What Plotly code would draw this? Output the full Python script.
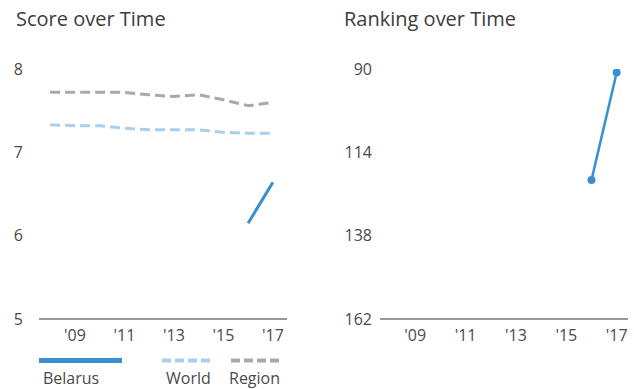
import plotly.graph_objects as go

# data
years = [2008, 2009, 2010, 2011, 2012, 2013, 2014, 2015, 2016, 2017]
region_score = [7.72, 7.72, 7.72, 7.72, 7.69, 7.67, 7.69, 7.63, 7.56, 7.60]
world_score = [7.33, 7.32, 7.32, 7.29, 7.27, 7.27, 7.27, 7.24, 7.23, 7.23]
belarus_years = [2016, 2017]
belarus_score = [6.15, 6.64]
belarus_rank = [122, 91]

tick_years = [2009, 2011, 2013, 2015, 2017]
tick_text = ["'09", "'11", "'13", "'15", "'17"]
score_ticks = [5, 6, 7, 8]
rank_ticks = [90, 114, 138, 162]

BLUE = "#3a8fd0"
LIGHT = "#a9cfee"
GREY = "#a9a9ab"
FONT = "Open Sans"
W, H = 634, 389

def px(x):
    return x / W

def py(y):
    return 1 - y / H

fig = go.Figure()

fig.add_trace(go.Scatter(x=years, y=region_score, mode="lines",
                         line=dict(color=GREY, width=3, dash="10px,5px"),
                         xaxis="x", yaxis="y", showlegend=False))
fig.add_trace(go.Scatter(x=years, y=world_score, mode="lines",
                         line=dict(color=LIGHT, width=3, dash="10px,5px"),
                         xaxis="x", yaxis="y", showlegend=False))
fig.add_trace(go.Scatter(x=belarus_years, y=belarus_score, mode="lines",
                         line=dict(color=BLUE, width=3),
                         xaxis="x", yaxis="y", showlegend=False))
fig.add_trace(go.Scatter(x=belarus_years, y=belarus_rank, mode="lines+markers",
                         line=dict(color=BLUE, width=2.5),
                         marker=dict(color=BLUE, size=8),
                         xaxis="x2", yaxis="y2", showlegend=False))

xcommon = dict(tickmode="array", tickvals=tick_years, ticktext=tick_text,
               showgrid=False, zeroline=False, showline=False, ticks="",
               automargin=False, ticklabelstandoff=5,
               tickfont=dict(family=FONT, size=16, color="#4a4a4a"))
ycommon = dict(tickmode="array", showgrid=False, zeroline=False,
               showline=False, ticks="", automargin=False,
               tickfont=dict(family=FONT, size=16, color="#4a4a4a"))

fig.update_layout(
    width=W, height=H,
    margin=dict(l=0, r=0, t=0, b=0),
    paper_bgcolor="white", plot_bgcolor="white",
    xaxis=dict(domain=[px(39), px(287)], range=[2007.55, 2017.57],
               anchor="y", **xcommon),
    yaxis=dict(domain=[py(319), py(69)], range=[5, 8], tickvals=score_ticks,
               anchor="x", ticklabelstandoff=15, **ycommon),
    xaxis2=dict(domain=[px(380), px(628)], range=[2007.6, 2017.45],
                anchor="y2", **xcommon),
    yaxis2=dict(domain=[py(319), py(69)], range=[162, 90], tickvals=rank_ticks,
                anchor="x2", ticklabelstandoff=7, **ycommon),
)

# baseline axis lines
for x0, x1 in [(39, 287), (380, 628)]:
    fig.add_shape(type="line", xref="paper", yref="paper",
                  x0=px(x0), x1=px(x1), y0=py(319), y1=py(319),
                  line=dict(color="#333", width=1.2))

# titles
for x, text in [(14, "Score over Time"), (342, "Ranking over Time")]:
    fig.add_annotation(x=px(x), y=py(18), xref="paper", yref="paper",
                       xanchor="left", yanchor="middle", showarrow=False,
                       text=text, font=dict(family=FONT, size=20, color="#3c3c3c"))

# legend
legend = [(39, 122, BLUE, "solid", 5, 41, "Belarus"),
          (162, 211, LIGHT, "9px,4px", 4, 164, "World"),
          (231, 280, GREY, "9px,4px", 4, 227, "Region")]
for x0, x1, col, dash, w, tx, label in legend:
    fig.add_shape(type="line", xref="paper", yref="paper",
                  x0=px(x0), x1=px(x1), y0=py(360.5), y1=py(360.5),
                  line=dict(color=col, width=w, dash=dash))
    fig.add_annotation(x=px(tx), y=py(378), xref="paper", yref="paper",
                       xanchor="left", yanchor="middle", showarrow=False,
                       text=label, font=dict(family=FONT, size=16, color="#4a4a4a"))

# the page's default body margin would push the figure off the window
fig.write_html("out.html", config={"displayModeBar": False},
               post_script="document.body.style.margin='0';"
                           "document.body.style.overflow='hidden';")
